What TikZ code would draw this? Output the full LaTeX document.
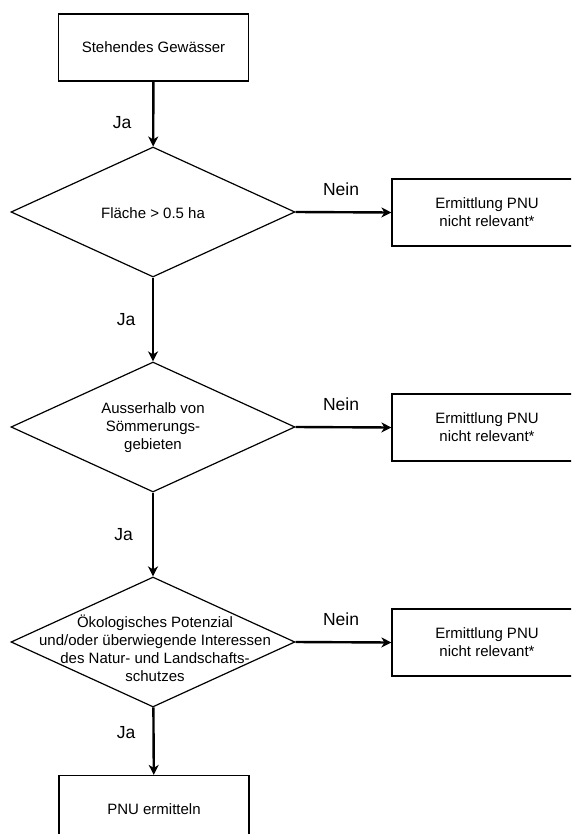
\documentclass[tikz,border=0pt]{standalone}
\usepackage{fontspec}
\setmainfont{Liberation Sans}
\usetikzlibrary{shapes.geometric,arrows.meta}
\tikzset{
  boxnode/.style={draw=black, line width=1.2pt, minimum width=190pt, minimum height=67pt, inner sep=0pt, align=center, font=\fontsize{15}{18}\selectfont},
  dianode/.style={draw=black, line width=1.2pt, diamond, minimum width=284pt, minimum height=130pt, inner sep=0pt},
  diatext/.style={align=center, inner sep=0pt, font=\fontsize{15}{18}\selectfont},
  lbl/.style={inner sep=0pt, font=\fontsize{17.5}{21}\selectfont},
  arr/.style={line width=2.4pt, -{Stealth[length=10pt,width=10pt,inset=3pt]}}
}
\begin{document}
\begin{tikzpicture}[x=1pt,y=-1pt]
\useasboundingbox (0,0) rectangle (571,834);
\clip (0,0) rectangle (571,834);
\fill[white] (0,0) rectangle (571,834);
% main column
\node[boxnode] (b1) at (153.5,47.5) {Stehendes Gewässer};
\node[dianode] (d1) at (153,212) {};
\node[diatext] (t1) at (153,213) {Fläche > 0.5 ha};
\node[dianode] (d2) at (153,427) {};
\node[diatext] (t2) at (153,428) {Ausserhalb von\\Sömmerungs-\\gebieten};
\node[dianode] (d3) at (153,642) {};
\node[diatext] (t3) at (155,648) {Ökologisches Potenzial\\und/oder überwiegende Interessen\\des Natur- und Landschafts-\\schutzes};
\node[boxnode] (b2) at (154,809) {PNU ermitteln};
% right column
\node[boxnode] (r1) at (487,212.5) {Ermittlung PNU\\nicht relevant*};
\node[boxnode] (r2) at (487,427.5) {Ermittlung PNU\\nicht relevant*};
\node[boxnode] (r3) at (487,642.5) {Ermittlung PNU\\nicht relevant*};
% connectors
\draw[arr] (b1) -- (d1);
\draw[arr] (d1) -- (d2);
\draw[arr] (d2) -- (d3);
\draw[arr] (d3) -- (b2);
\draw[arr] (d1.east) -- (r1.west);
\draw[arr] (d2.east) -- (r2.west);
\draw[arr] (d3.east) -- (r3.west);
% labels
\node[lbl] (ja1) at (122,123) {Ja};
\node[lbl] (ja2) at (126,320) {Ja};
\node[lbl] (ja3) at (123.5,535) {Ja};
\node[lbl] (ja4) at (126,733) {Ja};
\node[lbl] (ne1) at (341,189) {Nein};
\node[lbl] (ne2) at (341,404) {Nein};
\node[lbl] (ne3) at (341,619) {Nein};
\end{tikzpicture}
\end{document}
